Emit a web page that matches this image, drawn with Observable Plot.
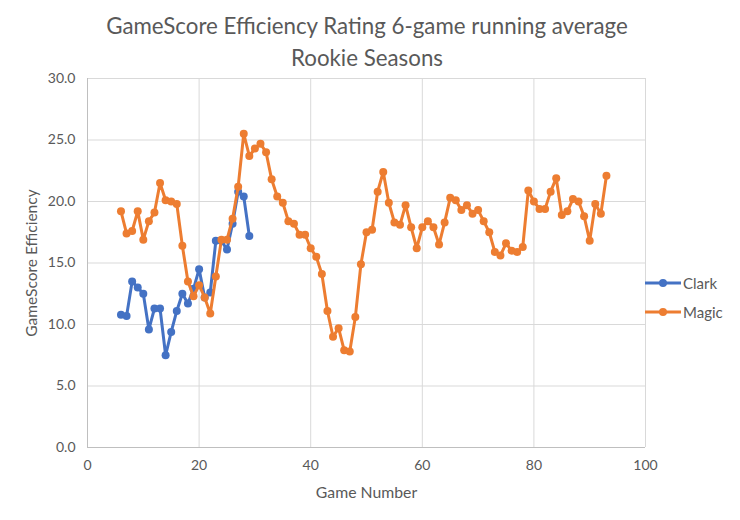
<!DOCTYPE html>
<html>
<head>
<meta charset="utf-8">
<script src="https://cdn.jsdelivr.net/npm/d3@7"></script>
<script src="https://cdn.jsdelivr.net/npm/@observablehq/plot@0.6"></script>
<style>
  html, body { margin: 0; padding: 0; background: #fff; }
  #wrap { position: relative; width: 740px; height: 520px; font-family: Lato, "Open Sans", sans-serif; color: #595959; }
  .title { position: absolute; left: 0; width: 734px; text-align: center; font-size: 22.3px; line-height: 28px; }
  #legend { position: absolute; left: 645px; top: 268px; font-size: 15px; }
  .item { display: flex; align-items: center; height: 29px; }
  .item svg { margin-right: 2px; }
</style>
</head>
<body>
<div id="wrap">
  <div class="title" style="top:12px">GameScore Efficiency Rating 6-game running average</div>
  <div class="title" style="top:44px">Rookie Seasons</div>
  <div id="chart"></div>
  <div id="legend"></div>
</div>
<script>
const seriesNames = ["Clark", "Magic"];
const seriesColors = ["#4472C4", "#ED7D31"];

const clarkGames = [6,7,8,9,10,11,12,13,14,15,16,17,18,19,20,21,22,23,24,25,26,27,28,29];
const clarkValues = [10.8,10.7,13.5,13.0,12.5,9.6,11.3,11.3,7.5,9.4,11.1,12.5,11.7,12.9,14.5,12.2,12.6,16.8,16.8,16.1,18.2,20.8,20.4,17.2];

const magicGames = [6,7,8,9,10,11,12,13,14,15,16,17,18,19,20,21,22,23,24,25,26,27,28,29,30,31,32,33,34,35,36,37,38,39,40,41,42,43,44,45,46,47,48,49,50,51,52,53,54,55,56,57,58,59,60,61,62,63,64,65,66,67,68,69,70,71,72,73,74,75,76,77,78,79,80,81,82,83,84,85,86,87,88,89,90,91,92,93];
const magicValues = [19.2,17.4,17.6,19.2,16.9,18.4,19.1,21.5,20.1,20.0,19.8,16.4,13.5,12.3,13.2,12.2,10.9,13.9,16.9,16.9,18.6,21.2,25.5,23.7,24.3,24.7,24.0,21.8,20.4,19.9,18.4,18.2,17.3,17.3,16.2,15.5,14.1,11.1,9.0,9.7,7.9,7.8,10.6,14.9,17.5,17.7,20.8,22.4,19.9,18.3,18.1,19.7,17.9,16.2,17.9,18.4,17.9,16.5,18.3,20.3,20.1,19.3,19.7,19.0,19.3,18.4,17.5,15.9,15.6,16.6,16.0,15.9,16.3,20.9,20.0,19.4,19.4,20.8,21.9,18.9,19.2,20.2,20.0,18.8,16.8,19.8,19.0,22.1];

const xTicks = [0,20,40,60,80,100];
const yTicks = [0,5,10,15,20,25,30];

const clark = clarkGames.map((g, i) => ({game: g, value: clarkValues[i], series: "Clark"}));
const magic = magicGames.map((g, i) => ({game: g, value: magicValues[i], series: "Magic"}));

const plot = Plot.plot({
  width: 740,
  height: 520,
  marginLeft: 87,
  marginRight: 95,
  marginTop: 78,
  marginBottom: 73,
  style: {fontFamily: "Lato, 'Open Sans', sans-serif", fontSize: "14px", color: "#595959", background: "#fff"},
  x: {domain: [0, 100], ticks: xTicks},
  y: {domain: [0, 30], ticks: yTicks},
  color: {domain: seriesNames, range: seriesColors},
  marks: [
    Plot.gridX(xTicks, {stroke: "#d9d9d9", strokeOpacity: 1, strokeWidth: 1}),
    Plot.gridY(yTicks, {stroke: "#d9d9d9", strokeOpacity: 1, strokeWidth: 1}),
    Plot.ruleY([0], {stroke: "#bfbfbf", strokeWidth: 1}),
    Plot.ruleX([0], {stroke: "#bfbfbf", strokeWidth: 1}),
    Plot.axisX(xTicks, {tickSize: 0, tickPadding: 13, fill: "#595959", label: null}),
    Plot.axisX({tickSize: 0, ticks: [], label: "Game Number", labelAnchor: "center", labelOffset: 50, labelArrow: "none", fontSize: 15.8, fill: "#595959"}),
    Plot.axisY(yTicks, {tickSize: 0, tickPadding: 12, tickFormat: d3.format(".1f"), fill: "#595959", label: null}),
    Plot.axisY({tickSize: 0, ticks: [], label: "GameScore Efficiency", labelAnchor: "center", labelOffset: 62, labelArrow: "none", fontSize: 15.5, fill: "#595959"}),
    Plot.line(clark, {x: "game", y: "value", stroke: "series", strokeWidth: 3}),
    Plot.dot(clark, {x: "game", y: "value", fill: "series", r: 4}),
    Plot.line(magic, {x: "game", y: "value", stroke: "series", strokeWidth: 3}),
    Plot.dot(magic, {x: "game", y: "value", fill: "series", r: 4})
  ]
});
document.getElementById("chart").appendChild(plot);

const legend = document.getElementById("legend");
seriesNames.forEach((name, i) => {
  const item = document.createElement("div");
  item.className = "item";
  item.innerHTML = `<svg width="36" height="10"><line x1="0" y1="5" x2="36" y2="5" stroke="${seriesColors[i]}" stroke-width="3"/><circle cx="18" cy="5" r="4" fill="${seriesColors[i]}"/></svg><span>${name}</span>`;
  legend.appendChild(item);
});
</script>
</body>
</html>
